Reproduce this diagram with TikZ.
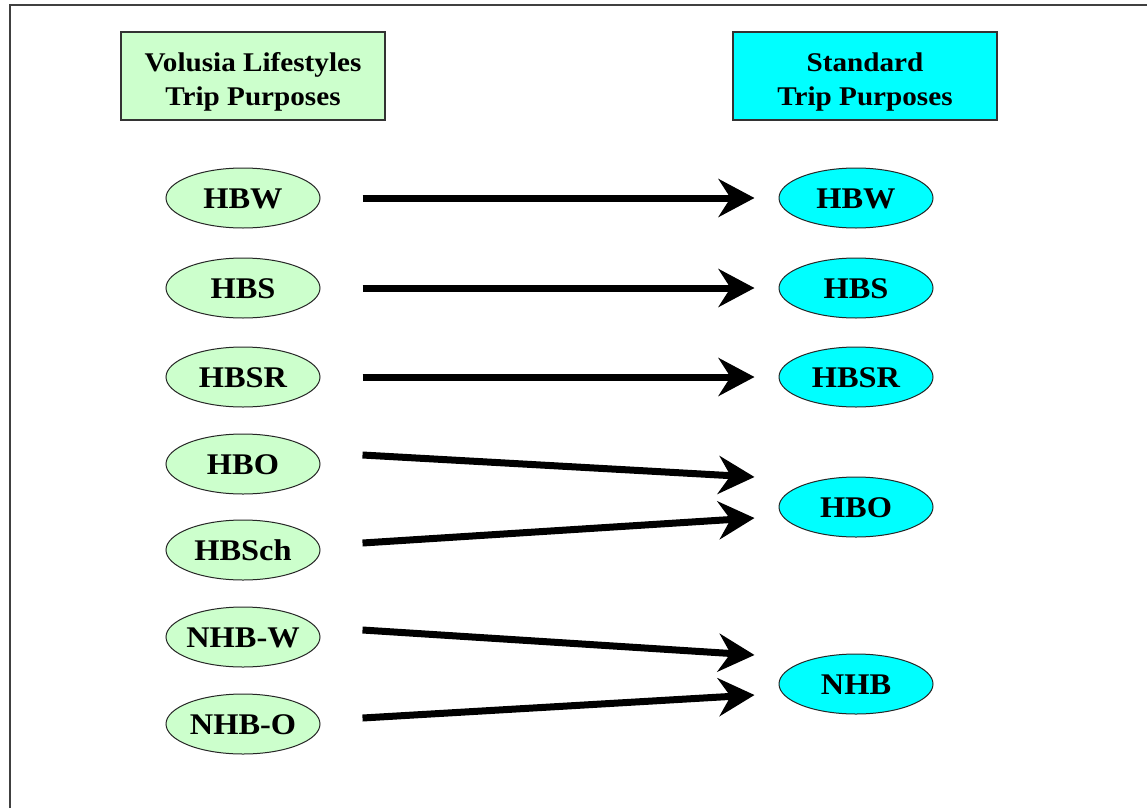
\documentclass[tikz,border=0pt]{standalone}
\usepackage{fontspec}
\setmainfont{Liberation Serif}[FakeStretch=1.08]
\usetikzlibrary{arrows.meta,shapes.geometric}
\definecolor{lgreen}{RGB}{204,255,204}
\definecolor{lcyan}{RGB}{0,255,255}
\newcommand{\ttl}[2]{\raisebox{-12pt}[0pt][0pt]{\begin{tabular}{@{}c@{}}#1\\#2\end{tabular}}}
\tikzset{
  frameline/.style={draw=black!75, line width=1.5pt},
  titlebox/.style={draw=black!80, line width=1.2pt, minimum width=264pt, minimum height=88pt,
    inner sep=0pt, font=\fontsize{27}{34}\selectfont\bfseries},
  oval/.style={ellipse, draw=black!85, line width=1pt, minimum width=154pt, minimum height=60pt,
    inner xsep=-3pt, inner ysep=0pt, text height=20pt, text depth=0pt,
    font=\fontsize{30}{36}\selectfont\bfseries},
  lnode/.style={oval, fill=lgreen},
  rnode/.style={oval, fill=lcyan},
  arr/.style={line width=7pt, -{Stealth[length=36pt,width=38pt,inset=12pt]}}
}
\begin{document}
\begin{tikzpicture}[x=1pt,y=-1pt]
\useasboundingbox (0,0) rectangle (1147,808);
\fill[white] (0,0) rectangle (1147,808);
\draw[frameline] (10,808) -- (10,5) -- (1147,5);

\node[titlebox, fill=lgreen] (ltitle) at (253,76) {\ttl{Volusia Lifestyles}{Trip Purposes}};
\node[titlebox, fill=lcyan] (rtitle) at (865,76) {\ttl{Standard}{Trip Purposes}};

\node[lnode] (lhbw) at (243,198) {HBW};
\node[lnode] (lhbs) at (243,288) {HBS};
\node[lnode] (lhbsr) at (243,377) {HBSR};
\node[lnode] (lhbo) at (243,464) {HBO};
\node[lnode] (lhbsch) at (243,550) {HBSch};
\node[lnode] (lnhbw) at (243,637) {NHB-W};
\node[lnode] (lnhbo) at (243,724) {NHB-O};

\node[rnode] (rhbw) at (856,198) {HBW};
\node[rnode] (rhbs) at (856,288) {HBS};
\node[rnode] (rhbsr) at (856,377) {HBSR};
\node[rnode] (rhbo) at (856,507) {HBO};
\node[rnode] (rnhb) at (856,684) {NHB};

\draw[arr] ([xshift=42pt]lhbw.east) -- ([xshift=-24pt]rhbw.west);
\draw[arr] ([xshift=42pt]lhbs.east) -- ([xshift=-24pt]rhbs.west);
\draw[arr] ([xshift=42pt]lhbsr.east) -- ([xshift=-24pt]rhbsr.west);
\draw[arr] ([xshift=42pt,yshift=9pt]lhbo.east) -- ([xshift=-24pt,yshift=30pt]rhbo.west);
\draw[arr] ([xshift=42pt,yshift=7pt]lhbsch.east) -- ([xshift=-24pt,yshift=-11pt]rhbo.west);
\draw[arr] ([xshift=42pt,yshift=7pt]lnhbw.east) -- ([xshift=-24pt,yshift=29pt]rnhb.west);
\draw[arr] ([xshift=42pt,yshift=6pt]lnhbo.east) -- ([xshift=-24pt,yshift=-11pt]rnhb.west);
\end{tikzpicture}
\end{document}
